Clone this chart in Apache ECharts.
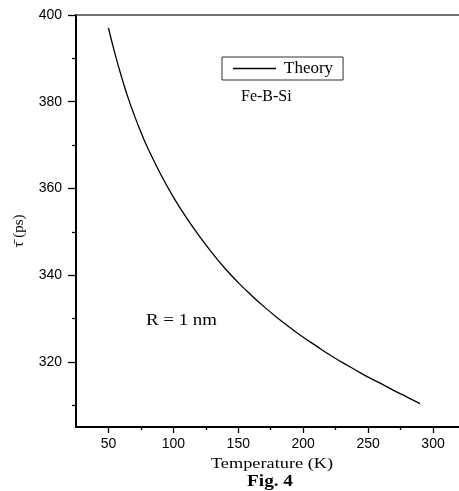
<!DOCTYPE html>
<html>
<head>
<meta charset="utf-8">
<script src="https://cdn.jsdelivr.net/npm/echarts@6/dist/echarts.min.js"></script>
<style>
html,body{margin:0;padding:0;background:#fff;}
#chart{width:459px;height:491px;}
</style>
</head>
<body>
<div id="chart"></div>
<script>
// Data
var temperatures = [50, 55, 60, 65, 70, 75, 80, 90, 100, 110, 120, 130, 140, 150, 160, 170, 180, 190, 200, 210, 220, 230, 240, 250, 260, 270, 280, 290];
var tauValues = [397, 391.1, 385.8, 381.0, 376.8, 373.0, 369.5, 363.4, 358.0, 353.3, 349.0, 345.1, 341.5, 338.3, 335.4, 332.7, 330.2, 327.9, 325.7, 323.7, 321.7, 319.9, 318.2, 316.5, 315.0, 313.4, 311.9, 310.4];
var seriesName = 'Theory';
var xMajorTicks = [50, 100, 150, 200, 250, 300];
var xMinorTicks = [75, 125, 175, 225, 275];
var yMajorTicks = [320, 340, 360, 380, 400];
var yMinorTicks = [310, 330, 350, 370, 390];
var xRange = [25, 320];
var yRange = [305, 400];

var serif = '"Liberation Serif", "Times New Roman", serif';
var sans = '"Liberation Sans", Arial, sans-serif';

var chart = echarts.init(document.getElementById('chart'), null, {renderer: 'canvas'});

var points = temperatures.map(function (t, i) { return [t, tauValues[i]]; });

var option = {
  animation: false,
  backgroundColor: '#fff',
  grid: {left: 76, right: 0, top: 15, bottom: 64, containLabel: false},
  legend: {
    data: [{name: seriesName, icon: 'rect'}],
    left: 222, top: 57,
    orient: 'horizontal',
    padding: [3, 10, 3, 11],
    borderColor: '#333', borderWidth: 1,
    itemWidth: 43, itemHeight: 1.3,
    itemStyle: {color: '#000', borderWidth: 0},
    textStyle: {fontFamily: serif, fontSize: 17, color: '#000', padding: [0, 0, 0, 3]}
  },
  xAxis: [
    {
      type: 'value', min: xRange[0], max: xRange[1], position: 'bottom',
      axisLine: {show: true, onZero: false, lineStyle: {color: '#000', width: 2}},
      axisTick: {show: true, inside: false, length: 6, customValues: xMajorTicks, lineStyle: {color: '#000', width: 1.3}},
      axisLabel: {show: true, customValues: xMajorTicks, margin: 10, fontFamily: sans, fontSize: 14, color: '#000'},
      splitLine: {show: false}
    },
    {
      type: 'value', min: xRange[0], max: xRange[1], position: 'bottom',
      axisLine: {show: false, onZero: false},
      axisTick: {show: true, inside: false, length: 3, customValues: xMinorTicks, lineStyle: {color: '#000', width: 1.3}},
      axisLabel: {show: false},
      splitLine: {show: false}
    },
    {
      type: 'value', min: xRange[0], max: xRange[1], position: 'top',
      axisLine: {show: true, onZero: false, lineStyle: {color: '#444', width: 1.5}},
      axisTick: {show: false}, axisLabel: {show: false}, splitLine: {show: false}
    }
  ],
  yAxis: [
    {
      type: 'value', min: yRange[0], max: yRange[1], position: 'left',
      axisLine: {show: true, onZero: false, lineStyle: {color: '#000', width: 2}},
      axisTick: {show: true, inside: false, length: 8, customValues: yMajorTicks, lineStyle: {color: '#000', width: 1.3}},
      axisLabel: {show: true, customValues: yMajorTicks, margin: 14, fontFamily: sans, fontSize: 14, color: '#000'},
      splitLine: {show: false}
    },
    {
      type: 'value', min: yRange[0], max: yRange[1], position: 'left',
      axisLine: {show: false, onZero: false},
      axisTick: {show: true, inside: false, length: 4, customValues: yMinorTicks, lineStyle: {color: '#000', width: 1.3}},
      axisLabel: {show: false},
      splitLine: {show: false}
    }
  ],
  series: [{
    name: seriesName,
    type: 'line',
    xAxisIndex: 0, yAxisIndex: 0,
    data: points,
    smooth: 0.5,
    symbol: 'none',
    showSymbol: false,
    lineStyle: {color: '#000', width: 1.3},
    itemStyle: {color: '#000'}
  }],
  graphic: [
    {type: 'text', x: 272, y: 464, scaleX: 1.22,
      style: {text: 'Temperature (K)', fontFamily: serif, fontSize: 15, fill: '#000', textAlign: 'center', textVerticalAlign: 'middle'}},
    {type: 'text', x: 270, y: 482, scaleX: 1.2,
      style: {text: 'Fig. 4', fontFamily: serif, fontWeight: 'bold', fontSize: 16, fill: '#000', textAlign: 'center', textVerticalAlign: 'middle'}},
    {type: 'text', x: 241, y: 97,
      style: {text: 'Fe-B-Si', fontFamily: serif, fontSize: 16, fill: '#000', textAlign: 'left', textVerticalAlign: 'middle'}},
    {type: 'text', x: 146, y: 321, scaleX: 1.18,
      style: {text: 'R = 1 nm', fontFamily: serif, fontSize: 16, fill: '#000', textAlign: 'left', textVerticalAlign: 'middle'}},
    {type: 'text', x: 19, y: 231, rotation: Math.PI / 2,
      style: {text: 'τ\u0304 (ps)', fontFamily: serif, fontSize: 15, fill: '#000', textAlign: 'center', textVerticalAlign: 'middle'}}
  ]
};
chart.setOption(option);
</script>
</body>
</html>
